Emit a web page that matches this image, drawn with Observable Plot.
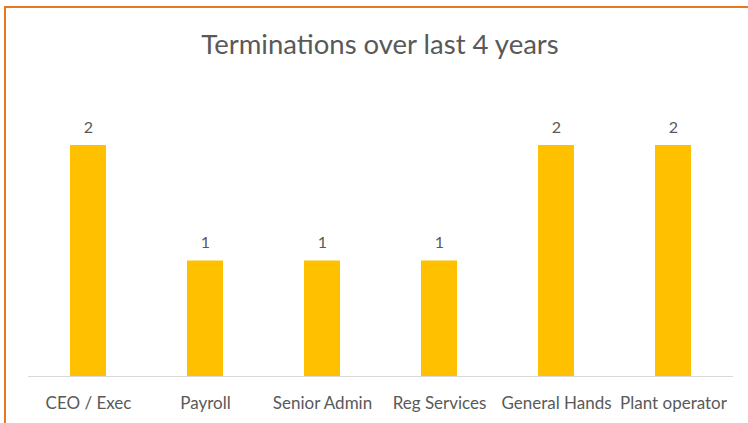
<!DOCTYPE html>
<html>
<head>
<meta charset="utf-8">
<script src="https://cdn.jsdelivr.net/npm/d3@7"></script>
<script src="https://cdn.jsdelivr.net/npm/@observablehq/plot@0.6"></script>
<style>
  html, body { margin: 0; padding: 0; background: #fff; }
  #chart { position: relative; width: 748px; height: 423px; overflow: hidden; background: #fff; }
  #title { position: absolute; left: 0; width: 760px; top: 27px; text-align: center;
           font-family: Lato, sans-serif; font-size: 27.5px; color: #595959; }
  #bt { position: absolute; left: 4px; top: 6px; width: 744px; height: 2px; background: #E87722; }
  #bl { position: absolute; left: 4px; top: 6px; width: 2px; height: 417px; background: #E87722; }
  #plot { position: absolute; left: 0; top: 0; }
</style>
</head>
<body>
<div id="chart">
  <div id="bt"></div>
  <div id="bl"></div>
  <div id="title">Terminations over last 4 years</div>
  <div id="plot"></div>
</div>
<script>
const categories = ["CEO / Exec", "Payroll", "Senior Admin", "Reg Services", "General Hands", "Plant operator"];
const values = [2, 1, 1, 1, 2, 2];

const data = categories.map((c, i) => ({category: c, value: values[i]}));

const chart = Plot.plot({
  width: 748,
  height: 423,
  marginLeft: 28,
  marginRight: 15,
  marginTop: 145,
  marginBottom: 47,
  style: {fontFamily: "Lato, sans-serif", fontSize: "17px", color: "#595959", background: "transparent", overflow: "visible"},
  x: {domain: categories, paddingInner: 0.694, paddingOuter: 0.349, label: null, tickSize: 0, tickPadding: 20},
  y: {domain: [0, 2], axis: null},
  marks: [
    Plot.ruleY([0], {stroke: "#D9D9D9", strokeWidth: 1}),
    Plot.barY(data, {x: "category", y: "value", fill: "#FFC000"}),
    Plot.text(data, {x: "category", y: "value", text: d => String(d.value), dy: -18, fill: "#595959", fontSize: 16})
  ]
});
document.getElementById("plot").appendChild(chart);
</script>
</body>
</html>
